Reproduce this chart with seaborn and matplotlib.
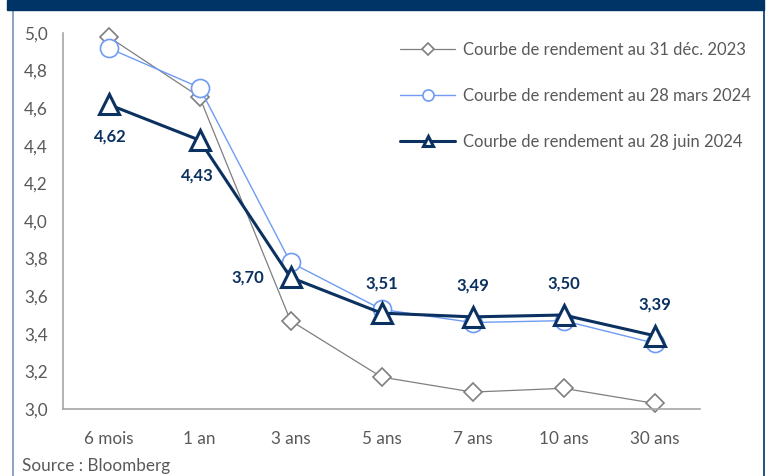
import matplotlib
matplotlib.use("Agg")
import matplotlib.pyplot as plt
from matplotlib.patches import Rectangle
from matplotlib.lines import Line2D
import seaborn as sns
import pandas as pd

# maturities on the x axis
maturites = ["6 mois", "1 an", "3 ans", "5 ans", "7 ans", "10 ans", "30 ans"]

# yields (%)
taux_dec_2023 = [4.98, 4.66, 3.47, 3.17, 3.09, 3.11, 3.03]
taux_mars_2024 = [4.92, 4.71, 3.78, 3.53, 3.46, 3.47, 3.35]
taux_juin_2024 = [4.62, 4.43, 3.70, 3.51, 3.49, 3.50, 3.39]

labels_series = [
    "Courbe de rendement au 31 déc. 2023",
    "Courbe de rendement au 28 mars 2024",
    "Courbe de rendement au 28 juin 2024",
]
y_ticks = [3.0, 3.2, 3.4, 3.6, 3.8, 4.0, 4.2, 4.4, 4.6, 4.8, 5.0]

navy = "#0B3161"
blue = "#6F9BF5"
gray = "#7F7F7F"
text_gray = "#595959"

sns.set_style("white")
plt.rcParams["font.family"] = ["Lato", "DejaVu Sans"]

fig = plt.figure(figsize=(7.67, 4.76), dpi=100)
ax = fig.add_axes([63 / 767, 1 - 409 / 476, (700 - 63) / 767, (409 - 33) / 476])

df_dec = pd.DataFrame({"maturite": maturites, "taux": taux_dec_2023})
df_mar = pd.DataFrame({"maturite": maturites, "taux": taux_mars_2024})
df_jun = pd.DataFrame({"maturite": maturites, "taux": taux_juin_2024})

sns.lineplot(data=df_dec, x="maturite", y="taux", ax=ax, color=gray, lw=0.9,
             marker="D", markersize=9.5, markerfacecolor="white",
             markeredgecolor=gray, markeredgewidth=1.2, label=labels_series[0],
             clip_on=False)
sns.lineplot(data=df_mar, x="maturite", y="taux", ax=ax, color=blue, lw=1.0,
             marker="o", markersize=13, markerfacecolor="white",
             markeredgecolor=blue, markeredgewidth=1.2, label=labels_series[1],
             clip_on=False)
sns.lineplot(data=df_jun, x="maturite", y="taux", ax=ax, color=navy, lw=2.2,
             marker="^", markersize=15, markerfacecolor="white",
             markeredgecolor=navy, markeredgewidth=2.2, label=labels_series[2],
             clip_on=False)

# data labels for the June curve
offsets = [(2, -32), (-2, -35), (-43, 0), (0, 30), (0, 31), (0, 31), (0, 31)]
for i, (v, off) in enumerate(zip(taux_juin_2024, offsets)):
    ax.annotate(f"{v:.2f}".replace(".", ","), (i, v), xytext=off,
                textcoords="offset pixels", ha="center", va="center",
                fontsize=12, fontweight="bold", color=navy)

ax.set_xlim(-0.5, 6.5)
ax.set_ylim(3.0, 5.0)
ax.set_yticks(y_ticks)
ax.set_yticklabels([f"{t:.1f}".replace(".", ",") for t in y_ticks])
ax.set_xlabel("")
ax.set_ylabel("")
ax.tick_params(axis="both", length=0, labelsize=12.3, labelcolor=text_gray)
ax.tick_params(axis="x", pad=16)
ax.tick_params(axis="y", pad=11)
for side in ["top", "right"]:
    ax.spines[side].set_visible(False)
for side in ["left", "bottom"]:
    ax.spines[side].set_color("#A6A6A6")
    ax.spines[side].set_linewidth(1.2)

leg = ax.legend(loc="upper left", bbox_to_anchor=(385 / 767, 1 - 27 / 476),
                bbox_transform=fig.transFigure, frameon=False, fontsize=12,
                handlelength=3.3, handletextpad=0.5, labelspacing=1.8,
                labelcolor=text_gray)
for h, ms in zip(leg.legend_handles, [6, 8, 7]):
    h.set_markersize(ms)

# header band and frame lines
fig.patches.append(Rectangle((7 / 767, 1 - 9.5 / 476), (764 - 7) / 767, 9.5 / 476,
                             transform=fig.transFigure, color="#003366", zorder=5))
fig.lines.append(Line2D([13 / 767, 13 / 767], [0, 1 - 9.5 / 476],
                        transform=fig.transFigure, color="#8FA6C4", lw=1.5))
fig.lines.append(Line2D([764 / 767, 764 / 767], [0, 1],
                        transform=fig.transFigure, color="#003366", lw=1.2))

fig.text(22 / 767, 1 - 466 / 476, "Source : Bloomberg", fontsize=12.3,
         color=text_gray, va="center", ha="left")

fig.savefig("out.png", dpi=100)
